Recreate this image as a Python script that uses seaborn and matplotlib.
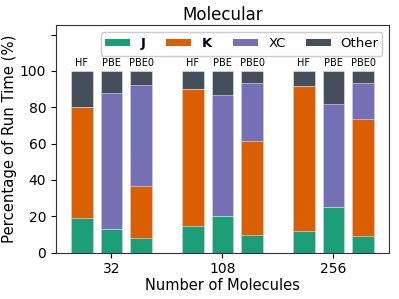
import matplotlib
matplotlib.use("Agg")
import matplotlib.pyplot as plt
from matplotlib.patches import Patch
import seaborn as sns
import pandas as pd

groups = ["32", "108", "256"]
methods = ["HF", "PBE", "PBE0"]
# percentages per (group, method) in order 32-HF,32-PBE,32-PBE0,108-...,256-...
J_vals = [19.3, 12.9, 8.1, 14.5, 20.4, 9.7, 11.8, 25.3, 9.4]
K_vals = [61.0, 0.0, 28.8, 75.7, 0.0, 51.5, 79.8, 0.0, 64.1]
XC_vals = [0.0, 75.1, 55.3, 0.0, 66.1, 32.3, 0.0, 56.4, 19.8]
Other_vals = [19.7, 12.0, 7.8, 9.8, 13.5, 6.5, 8.4, 18.3, 6.7]

colors = {"J": "#1b9e77", "K": "#d95f02", "XC": "#7570b3", "Other": "#454f5b"}

rows = []
i = 0
for g in groups:
    for m in methods:
        rows.append(dict(group=g, method=m, J=J_vals[i], K=K_vals[i],
                         XC=XC_vals[i], Other=Other_vals[i]))
        i += 1
df = pd.DataFrame(rows)
df["c_J"] = df["J"]
df["c_K"] = df["c_J"] + df["K"]
df["c_XC"] = df["c_K"] + df["XC"]
df["c_Other"] = df["c_XC"] + df["Other"]

fig, ax = plt.subplots(figsize=(3.99, 2.99), dpi=100)

for comp in ["Other", "XC", "K", "J"]:
    sns.barplot(data=df, x="group", y="c_" + comp, hue="method",
                order=groups, hue_order=methods,
                palette=[colors[comp]] * 3, saturation=1, gap=0.27, width=0.8,
                edgecolor="#e8e8f0", linewidth=0.4, legend=False, ax=ax)

# method labels above bars (use the Other layer's patches, ordered by hue then group)
n = len(groups) * len(methods)
other_patches = ax.patches[:n]
for k, p in enumerate(other_patches):
    m = methods[k // len(groups)]
    ax.text(p.get_x() + p.get_width() / 2, p.get_height() + 1.5, m,
            ha="center", va="bottom", fontsize=7)

ax.set_ylim(0, 125)
ax.set_xlim(-0.5, 2.5)
ax.set_yticks([0, 20, 40, 60, 80, 100, 120])
ax.set_yticklabels(["0", "20", "40", "60", "80", "100", ""], fontsize=10)
ax.tick_params(axis="x", labelsize=10)
ax.set_xlabel("Number of Molecules", fontsize=10.5, labelpad=1)
ax.set_ylabel("Percentage of Run Time (%)", fontsize=10.7, labelpad=2)
ax.set_title("Molecular", fontsize=12, pad=4)
for s in ax.spines.values():
    s.set_color("#333333")
    s.set_linewidth(0.8)

handles = [Patch(facecolor=colors[c], edgecolor="none") for c in ["J", "K", "XC", "Other"]]
labels = [r"$\mathbf{J}$", r"$\mathbf{K}$", "XC", "Other"]
ax.legend(handles, labels, loc="upper right", ncol=4, fontsize=9.5,
          handlelength=1.9, handleheight=0.5, columnspacing=1.5,
          handletextpad=0.75, borderpad=0.3, framealpha=1.0)

fig.subplots_adjust(left=0.14, right=0.975, bottom=0.155, top=0.915)
fig.savefig("out.png", dpi=100)
